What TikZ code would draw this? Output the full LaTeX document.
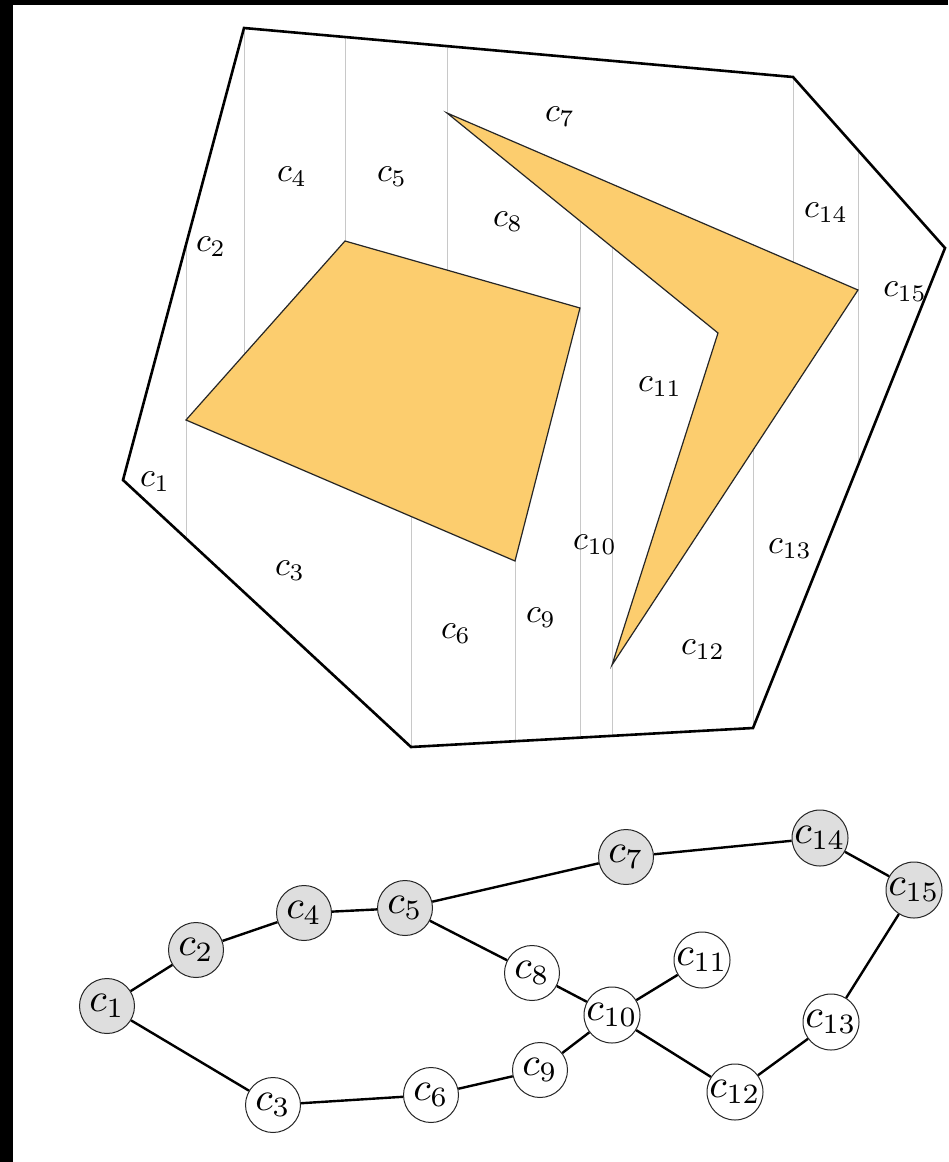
\documentclass[tikz,border=0pt]{standalone}
\usetikzlibrary{shapes.geometric}
\definecolor{obst}{RGB}{252,205,110}
\definecolor{cellline}{RGB}{200,200,200}
\definecolor{gnode}{RGB}{222,222,222}
\newcommand{\cc}[1]{\scalebox{3.4}{$c_{#1}$}}
\newcommand{\nc}[1]{\scalebox{4}{$c_{#1}$}}
\begin{document}
\begin{tikzpicture}[x=1pt,y=-1pt,
  lbl/.style={inner sep=0pt},
  wall/.style={line width=2.6pt,line join=miter},
  obstacle/.style={fill=obst,draw=black!85,line width=1.2pt,line join=miter},
  cut/.style={draw=cellline,line width=1pt},
  gn/.style={circle,draw=black!85,line width=1pt,minimum size=55pt,inner sep=0pt},
  shaded/.style={gn,fill=gnode},
  plain/.style={gn,fill=white},
  edge/.style={line width=2.4pt}]
\useasboundingbox (0,0) rectangle (948,1162);
\fill[white] (0,0) rectangle (948,1162);
\fill[black] (0,0) rectangle (948,5);
\fill[black] (0,0) rectangle (13,1162);
% outer polygon vertices
\coordinate (A) at (244,28);
\coordinate (B) at (793,77);
\coordinate (C) at (945,248);
\coordinate (D) at (753,728);
\coordinate (E) at (411,747);
\coordinate (F) at (123,480);
% obstacles
\coordinate (P1) at (186,420);
\coordinate (P2) at (345,241);
\coordinate (P3) at (580,308);
\coordinate (P4) at (515,561);
\coordinate (T) at (447,113);
\coordinate (R) at (858,290);
\coordinate (Q) at (612,665);
\coordinate (I) at (718,333);
% trapezoidal cuts
\draw[cut] (186,245) -- (186,538);
\draw[cut] (244,28) -- (244,355);
\draw[cut] (345,37) -- (345,241);
\draw[cut] (447,46) -- (447,270);
\draw[cut] (411,516) -- (411,747);
\draw[cut] (515,561) -- (515,741);
\draw[cut] (580,221) -- (580,738);
\draw[cut] (612,247) -- (612,736);
\draw[cut] (858,150) -- (858,466);
\draw[cut] (793,77) -- (793,262);
\draw[cut] (753,450) -- (753,728);
\draw[obstacle] (P1) -- (P2) -- (P3) -- (P4) -- cycle;
\draw[obstacle] (T) -- (R) -- (Q) -- (I) -- cycle;
\draw[wall] (A) -- (B) -- (C) -- (D) -- (E) -- (F) -- cycle;
% cell labels
\node[lbl] (l1) at (155,482) {\cc{1}};
\node[lbl] (l2) at (211,247) {\cc{2}};
\node[lbl] (l3) at (290,571) {\cc{3}};
\node[lbl] (l4) at (292,177) {\cc{4}};
\node[lbl] (l5) at (392,177) {\cc{5}};
\node[lbl] (l6) at (456,634) {\cc{6}};
\node[lbl] (l7) at (560,117) {\cc{7}};
\node[lbl] (l8) at (508,222) {\cc{8}};
\node[lbl] (l9) at (541,618) {\cc{9}};
\node[lbl] (l10) at (595,545) {\cc{10}};
\node[lbl] (l11) at (660,387) {\cc{11}};
\node[lbl] (l12) at (703,650) {\cc{12}};
\node[lbl] (l13) at (790,549) {\cc{13}};
\node[lbl] (l14) at (826,213) {\cc{14}};
\node[lbl] (l15) at (905,292) {\cc{15}};
% graph
\node[shaded] (n1) at (107,1006) {\nc{1}};
\node[shaded] (n2) at (196,950) {\nc{2}};
\node[shaded] (n4) at (304,913) {\nc{4}};
\node[shaded] (n5) at (405,908) {\nc{5}};
\node[shaded] (n7) at (626,857) {\nc{7}};
\node[shaded] (n14) at (820,838) {\nc{14}};
\node[shaded] (n15) at (914,890) {\nc{15}};
\node[plain] (n8) at (532,973) {\nc{8}};
\node[plain] (n11) at (702,960) {\nc{11}};
\node[plain] (n10) at (612,1015) {\nc{10}};
\node[plain] (n13) at (831,1022) {\nc{13}};
\node[plain] (n12) at (735,1092) {\nc{12}};
\node[plain] (n9) at (540,1070) {\nc{9}};
\node[plain] (n6) at (431,1095) {\nc{6}};
\node[plain] (n3) at (273,1105) {\nc{3}};
\draw[edge] (n1) -- (n2);
\draw[edge] (n2) -- (n4);
\draw[edge] (n4) -- (n5);
\draw[edge] (n5) -- (n7);
\draw[edge] (n7) -- (n14);
\draw[edge] (n14) -- (n15);
\draw[edge] (n15) -- (n13);
\draw[edge] (n13) -- (n12);
\draw[edge] (n12) -- (n10);
\draw[edge] (n10) -- (n11);
\draw[edge] (n10) -- (n8);
\draw[edge] (n8) -- (n5);
\draw[edge] (n10) -- (n9);
\draw[edge] (n9) -- (n6);
\draw[edge] (n6) -- (n3);
\draw[edge] (n3) -- (n1);
\end{tikzpicture}
\end{document}
